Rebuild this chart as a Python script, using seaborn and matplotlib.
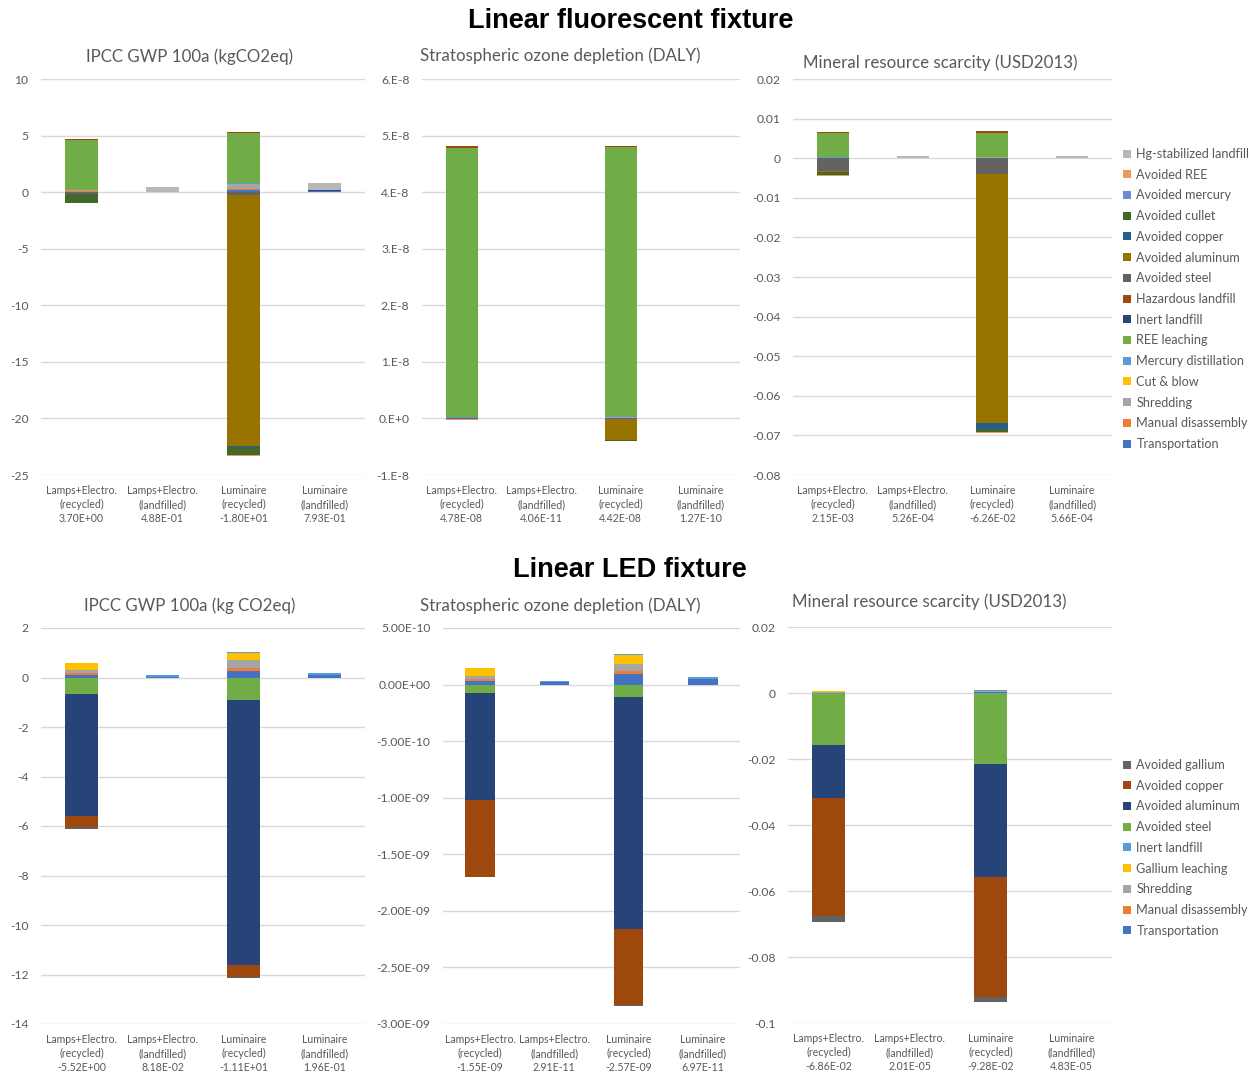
import numpy as np
import matplotlib
matplotlib.use("Agg")
import matplotlib.pyplot as plt
from matplotlib.patches import Patch
import seaborn as sns

sns.set_theme(style="white")
plt.rcParams["font.family"] = ["Lato", "DejaVu Sans"]

W, H = 1255, 1076
TEXT = "#595959"
GRID = "#D9D9D9"

# ---------------- categories ----------------
CATEGORIES = ["Lamps+Electro.\n(recycled)", "Lamps+Electro.\n(landfilled)",
              "Luminaire\n(recycled)", "Luminaire\n(landfilled)"]

# ---------------- fluorescent fixture: process series ----------------
FL_SERIES = ["Transportation", "Manual disassembly", "Shredding", "Cut & blow",
             "Mercury distillation", "REE leaching", "Inert landfill",
             "Hazardous landfill", "Avoided steel", "Avoided aluminum",
             "Avoided copper", "Avoided cullet", "Avoided mercury",
             "Avoided REE", "Hg-stabilized landfill"]
FL_COLORS = ["#4472C4", "#ED7D31", "#A5A5A5", "#FFC000", "#5B9BD5", "#70AD47",
             "#264478", "#9E480E", "#636363", "#997300", "#255E91", "#43682B",
             "#698ED0", "#F1975A", "#B7B7B7"]

# rows follow FL_SERIES, columns follow CATEGORIES
FL_GWP = [
    [0.04, 0.028, 0.20, 0.08],
    [0.02, 0.0, 0.12, 0.04],
    [0.12, 0.0, 0.40, 0.0],
    [0.01, 0.0, 0.02, 0.0],
    [0.02, 0.0, 0.05, 0.0],
    [4.40, 0.0, 4.45, 0.0],
    [0.0, 0.0, 0.01, 0.03],
    [0.08, 0.0, 0.08, 0.0],
    [-0.12, 0.0, -0.25, 0.0],
    [-0.02, 0.0, -22.2, 0.0],
    [-0.01, 0.0, -0.10, 0.0],
    [-0.78, 0.0, -0.65, 0.0],
    [-0.004, 0.0, -0.01, 0.0],
    [-0.06, 0.0, -0.10, 0.0],
    [0.0, 0.46, 0.0, 0.643],
]

FL_OZONE_E8 = [
    [0.005, 0.00056, 0.008, 0.002],
    [0.002, 0.0, 0.003, 0.0007],
    [0.005, 0.0, 0.010, 0.0],
    [0.003, 0.0, 0.004, 0.0],
    [0.010, 0.0, 0.010, 0.0],
    [4.76, 0.0, 4.76, 0.0],
    [0.0, 0.0, 0.002, 0.0],
    [0.025, 0.0, 0.023, 0.0],
    [-0.002, 0.0, -0.010, 0.0],
    [-0.003, 0.0, -0.365, 0.0],
    [-0.001, 0.0, -0.012, 0.0],
    [-0.005, 0.0, -0.008, 0.0],
    [-0.001, 0.0, -0.001, 0.0],
    [-0.018, 0.0, -0.004, 0.0],
    [0.0, 0.0035, 0.0, 0.010],
]

FL_MINERAL = [
    [0.00005, 0.000026, 0.0001, 0.000046],
    [0.00003, 0.0, 0.00005, 0.00002],
    [0.00005, 0.0, 0.0001, 0.0],
    [0.00002, 0.0, 0.00002, 0.0],
    [0.00005, 0.0, 0.00005, 0.0],
    [0.0062, 0.0, 0.0061, 0.0],
    [0.0, 0.0, 0.00002, 0.0],
    [0.0003, 0.0, 0.00036, 0.0],
    [-0.0033, 0.0, -0.0041, 0.0],
    [-0.0002, 0.0, -0.0627, 0.0],
    [-0.00005, 0.0, -0.0017, 0.0],
    [-0.0008, 0.0, -0.0007, 0.0],
    [-0.00001, 0.0, -0.00002, 0.0],
    [-0.000189, 0.0, -0.00018, 0.0],
    [0.0, 0.0005, 0.0, 0.0005],
]

# ---------------- LED fixture: process series ----------------
LED_SERIES = ["Transportation", "Manual disassembly", "Shredding",
              "Gallium leaching", "Inert landfill", "Avoided steel",
              "Avoided aluminum", "Avoided copper", "Avoided gallium"]
LED_COLORS = ["#4472C4", "#ED7D31", "#A5A5A5", "#FFC000", "#5B9BD5",
              "#70AD47", "#264478", "#9E480E", "#636363"]

LED_GWP = [
    [0.12, 0.0218, 0.27, 0.12],
    [0.07, 0.0, 0.13, 0.0],
    [0.12, 0.0, 0.30, 0.0],
    [0.27, 0.0, 0.28, 0.0],
    [0.02, 0.06, 0.05, 0.076],
    [-0.66, 0.0, -0.90, 0.0],
    [-4.93, 0.0, -10.72, 0.0],
    [-0.47, 0.0, -0.48, 0.0],
    [-0.06, 0.0, -0.03, 0.0],
]

LED_OZONE_E10 = [
    [0.30, 0.20, 0.97, 0.50],
    [0.15, 0.0, 0.20, 0.0],
    [0.30, 0.0, 0.65, 0.0],
    [0.70, 0.0, 0.75, 0.0],
    [0.05, 0.091, 0.13, 0.197],
    [-0.77, 0.0, -1.08, 0.0],
    [-9.43, 0.0, -20.5, 0.0],
    [-6.78, 0.0, -6.77, 0.0],
    [-0.02, 0.0, -0.05, 0.0],
]

LED_MINERAL = [
    [0.0001, 0.000015, 0.00025, 0.00004],
    [0.00005, 0.0, 0.0001, 0.0],
    [0.0002, 0.0, 0.00025, 0.0],
    [0.0003, 0.0, 0.0001, 0.0],
    [0.00005, 0.0000051, 0.0001, 0.0000083],
    [-0.0158, 0.0, -0.0216, 0.0],
    [-0.0159, 0.0, -0.0343, 0.0],
    [-0.0360, 0.0, -0.0363, 0.0],
    [-0.0016, 0.0, -0.0014, 0.0],
]

# ---------------- axis ticks ----------------
GWP_FL_TICKS = [10, 5, 0, -5, -10, -15, -20, -25]
GWP_FL_LABELS = ["10", "5", "0", "-5", "-10", "-15", "-20", "-25"]
OZ_FL_TICKS = [6e-8, 5e-8, 4e-8, 3e-8, 2e-8, 1e-8, 0, -1e-8]
OZ_FL_LABELS = ["6.E-8", "5.E-8", "4.E-8", "3.E-8", "2.E-8", "1.E-8", "0.E+0", "-1.E-8"]
MIN_FL_TICKS = [0.02, 0.01, 0, -0.01, -0.02, -0.03, -0.04, -0.05, -0.06, -0.07, -0.08]
MIN_FL_LABELS = ["0.02", "0.01", "0", "-0.01", "-0.02", "-0.03", "-0.04",
                 "-0.05", "-0.06", "-0.07", "-0.08"]
GWP_LED_TICKS = [2, 0, -2, -4, -6, -8, -10, -12, -14]
GWP_LED_LABELS = ["2", "0", "-2", "-4", "-6", "-8", "-10", "-12", "-14"]
OZ_LED_TICKS = [5e-10, 0, -5e-10, -1e-9, -1.5e-9, -2e-9, -2.5e-9, -3e-9]
OZ_LED_LABELS = ["5.00E-10", "0.00E+00", "-5.00E-10", "-1.00E-09", "-1.50E-09",
                 "-2.00E-09", "-2.50E-09", "-3.00E-09"]
MIN_LED_TICKS = [0.02, 0, -0.02, -0.04, -0.06, -0.08, -0.1]
MIN_LED_LABELS = ["0.02", "0", "-0.02", "-0.04", "-0.06", "-0.08", "-0.1"]


def pix_axes(fig, left, top, right, bottom):
    return fig.add_axes([left / W, 1 - bottom / H, (right - left) / W, (bottom - top) / H])


def stacked_panel(ax, values, scale, colors, ticks, tick_labels, ylim):
    vals = np.asarray(values, dtype=float) * scale
    pos = np.clip(vals, 0, None)
    neg = np.clip(vals, None, 0)
    pos_bottom = np.cumsum(pos, axis=0) - pos
    neg_bottom = np.cumsum(neg, axis=0) - neg
    x = np.arange(len(CATEGORIES))
    for i, color in enumerate(colors):
        bottom = np.where(vals[i] >= 0, pos_bottom[i], neg_bottom[i])
        ax.bar(x, vals[i], bottom=bottom, width=0.4, color=color,
               edgecolor="none", linewidth=0, zorder=3)
    net = vals.sum(axis=0)
    labels = [f"{c}\n{n:.2E}" for c, n in zip(CATEGORIES, net)]
    ax.set_xticks(x, labels)
    ax.set_xlim(-0.5, len(CATEGORIES) - 0.5)
    ax.set_ylim(*ylim)
    ax.set_yticks(ticks, tick_labels)
    ax.yaxis.grid(True, color=GRID, linewidth=1.0, zorder=0)
    ax.xaxis.grid(False)
    ax.set_axisbelow(True)
    sns.despine(ax=ax, left=True, bottom=True)
    ax.tick_params(axis="y", length=0, pad=9, labelsize=8.7, labelcolor=TEXT)
    ax.tick_params(axis="x", length=0, pad=7.5, labelsize=7.6, labelcolor=TEXT)
    for t in ax.get_xticklabels():
        t.set_linespacing(1.3)
    ax.set_facecolor("white")


fig = plt.figure(figsize=(W / 100, H / 100), dpi=100)
fig.patch.set_facecolor("white")

# fluorescent row
ax1 = pix_axes(fig, 41, 79, 365, 475)
stacked_panel(ax1, FL_GWP, 1.0, FL_COLORS, GWP_FL_TICKS, GWP_FL_LABELS, (-25, 10))
ax2 = pix_axes(fig, 422, 79, 740, 475)
stacked_panel(ax2, FL_OZONE_E8, 1e-8, FL_COLORS, OZ_FL_TICKS, OZ_FL_LABELS, (-1e-8, 6e-8))
ax3 = pix_axes(fig, 793, 79, 1112, 475)
stacked_panel(ax3, FL_MINERAL, 1.0, FL_COLORS, MIN_FL_TICKS, MIN_FL_LABELS, (-0.08, 0.02))

# LED row
ax4 = pix_axes(fig, 41, 628, 365, 1024)
stacked_panel(ax4, LED_GWP, 1.0, LED_COLORS, GWP_LED_TICKS, GWP_LED_LABELS, (-14, 2))
ax5 = pix_axes(fig, 443, 628, 740, 1024)
stacked_panel(ax5, LED_OZONE_E10, 1e-10, LED_COLORS, OZ_LED_TICKS, OZ_LED_LABELS, (-3e-9, 5e-10))
ax6 = pix_axes(fig, 788, 627, 1112, 1023)
stacked_panel(ax6, LED_MINERAL, 1.0, LED_COLORS, MIN_LED_TICKS, MIN_LED_LABELS, (-0.1, 0.02))

# panel titles
def ptitle(x, y, s):
    fig.text(x / W, 1 - y / H, s, ha="center", va="center", fontsize=12.2, color=TEXT)

ptitle(189, 57, "IPCC GWP 100a (kgCO2eq)")
ptitle(560, 56, "Stratospheric ozone depletion (DALY)")
ptitle(940, 63, "Mineral resource scarcity (USD2013)")
ptitle(190, 606, "IPCC GWP 100a (kg CO2eq)")
ptitle(560, 606, "Stratospheric ozone depletion (DALY)")
ptitle(929, 602, "Mineral resource scarcity (USD2013)")

# section headings
fig.text(631 / W, 1 - 21 / H, "Linear fluorescent fixture", ha="center", va="center",
         fontsize=19.5, fontweight="bold", color="black", family="Liberation Sans")
fig.text(630 / W, 1 - 570 / H, "Linear LED fixture", ha="center", va="center",
         fontsize=19.5, fontweight="bold", color="black", family="Liberation Sans")

# legends (listed in reverse stacking order)
def legend(series, colors, x, y):
    handles = [Patch(facecolor=c, edgecolor="none", label=s)
               for s, c in zip(series[::-1], colors[::-1])]
    fig.legend(handles=handles, loc="upper left", bbox_to_anchor=(x / W, 1 - y / H),
               frameon=False, fontsize=9.1, labelcolor=TEXT, handlelength=0.6,
               handleheight=0.6, handletextpad=0.45, labelspacing=0.69,
               borderaxespad=0, borderpad=0)

legend(FL_SERIES, FL_COLORS, 1123, 148)
legend(LED_SERIES, LED_COLORS, 1123, 759)

fig.savefig("out.png", dpi=100, facecolor="white")
